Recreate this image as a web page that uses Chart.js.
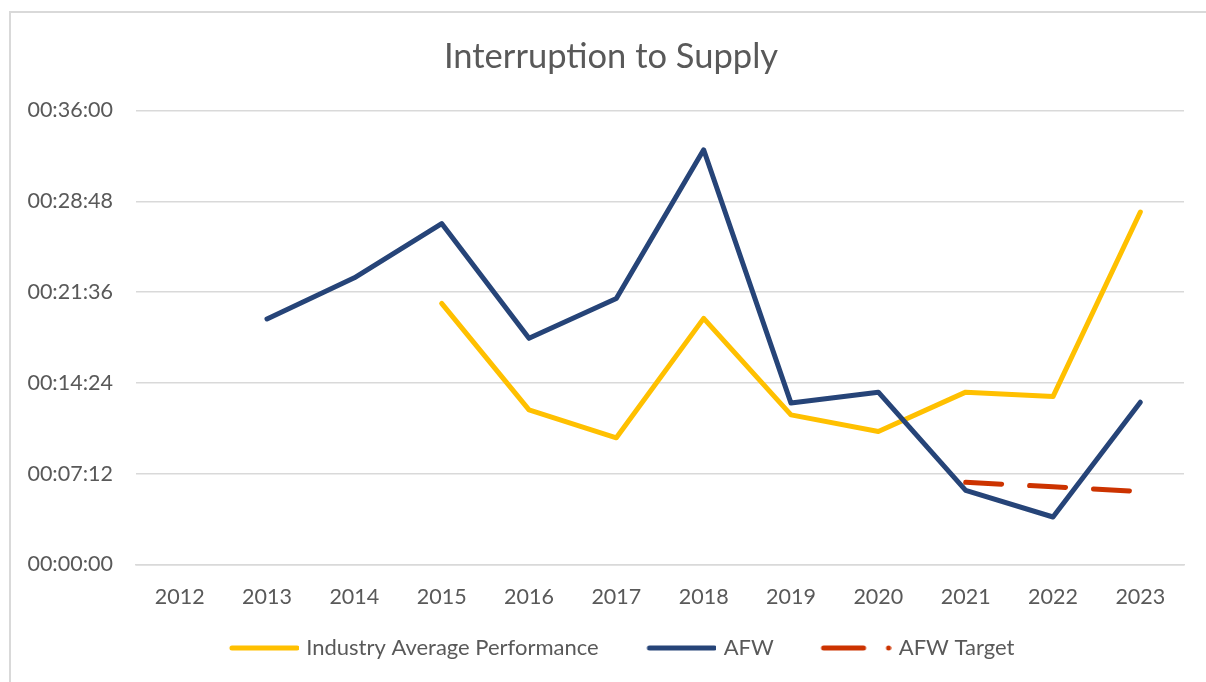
<!DOCTYPE html>
<html>
<head>
<meta charset="utf-8">
<title>Interruption to Supply</title>
<script src="https://cdn.jsdelivr.net/npm/chart.js@4"></script>
<style>
    html, body { margin: 0; padding: 0; background: #fff; overflow: hidden; }
    #frame {
        position: absolute; left: 9px; top: 11px; right: 0; bottom: 0;
        border-left: 2px solid #d9d9d9; border-top: 2px solid #d9d9d9;
    }
    #chart { position: absolute; left: 0; top: 0; }
</style>
</head>
<body>
<div id="frame"></div>
<canvas id="chart" width="1206" height="682"></canvas>
<script>
// values are hh:mm:ss, null where there is no figure
const years = ["2012", "2013", "2014", "2015", "2016", "2017", "2018", "2019", "2020", "2021", "2022", "2023"];
const industryAvg = [null, null, null, "00:20:42", "00:12:16", "00:10:03", "00:19:31", "00:11:52", "00:10:33", "00:13:40", "00:13:19", "00:27:57"];
const afw = [null, "00:19:28", "00:22:44", "00:27:02", "00:17:56", "00:21:06", "00:32:53", "00:12:48", "00:13:40", "00:05:53", "00:03:46", "00:12:52"];
const afwTarget = [null, null, null, null, null, null, null, null, null, "00:06:31", "00:06:10", "00:05:47"];

const yMax = "00:36:00";
const yStep = "00:07:12";

const toSeconds = (t) => {
    if (t === null) return null;
    const [h, m, s] = t.split(":").map(Number);
    return h * 3600 + m * 60 + s;
};

const pad = (n) => String(n).padStart(2, "0");
const toClock = (secs) => {
    const h = Math.floor(secs / 3600);
    const m = Math.floor((secs % 3600) / 60);
    const s = Math.round(secs % 60);
    return `${pad(h)}:${pad(m)}:${pad(s)}`;
};

const textColor = "#595959";
const gridColor = "#d9d9d9";
const fontFamily = "Lato, 'Open Sans', sans-serif";

// legend symbols: transparent lead-in widens the gap between items,
// and the image pokes 4px past its box so the sample sits closer to the text
const gapExtra = 17.5;
const boxW = 70 + gapExtra;
const makeSample = (color, dashed) => {
    const c = document.createElement("canvas");
    const w = boxW + 8;
    c.width = w;
    c.height = 10;
    const g = c.getContext("2d");
    g.strokeStyle = color;
    g.fillStyle = color;
    g.lineWidth = 5;
    g.lineCap = "round";
    g.beginPath();
    if (dashed) {
        g.moveTo(w - 68.5, 5);
        g.lineTo(w - 28.5, 5);
        g.stroke();
        g.beginPath();
        g.arc(w - 3.5, 5, 2.5, 0, Math.PI * 2);
        g.fill();
    } else {
        g.moveTo(w - 67.5, 5);
        g.lineTo(w - 2.5, 5);
        g.stroke();
    }
    return c;
};

const series = [
    { label: "Industry Average Performance", data: industryAvg, color: "#ffc000", dash: [], order: 3 },
    { label: "AFW", data: afw, color: "#264478", dash: [], order: 2 },
    { label: "AFW Target", data: afwTarget, color: "#cc3300", dash: [36, 28], order: 1 },
];

const ctx = document.getElementById("chart").getContext("2d");

new Chart(ctx, {
    type: "line",
    data: {
        labels: years,
        datasets: series.map((s) => ({
            label: s.label,
            data: s.data.map(toSeconds),
            borderColor: s.color,
            backgroundColor: s.color,
            borderWidth: 5,
            borderDash: s.dash,
            borderCapStyle: "round",
            borderJoinStyle: "round",
            pointRadius: 0,
            tension: 0,
            spanGaps: false,
            order: s.order,
        })),
    },
    options: {
        responsive: false,
        animation: false,
        layout: {
            padding: { left: 24, right: 8, top: 0, bottom: 13 },
        },
        plugins: {
            tooltip: { enabled: false },
            title: {
                display: true,
                text: "Interruption to Supply",
                color: textColor,
                font: { family: fontFamily, size: 34.5, weight: "normal" },
                padding: { top: 36.3, bottom: 32.8 },
            },
            legend: {
                position: "bottom",
                labels: {
                    usePointStyle: true,
                    pointStyleWidth: boxW,
                    padding: 26.5,
                    color: textColor,
                    font: { family: fontFamily, size: 22 },
                    generateLabels: () =>
                        series.map((s, i) => ({
                            text: s.label,
                            pointStyle: makeSample(s.color, s.dash.length > 0),
                            fillStyle: s.color,
                            strokeStyle: s.color,
                            lineWidth: 0,
                            fontColor: textColor,
                            datasetIndex: i,
                            hidden: false,
                        })),
                },
            },
        },
        scales: {
            x: {
                offset: true,
                grid: { display: false, drawTicks: false },
                border: { display: true, color: gridColor, width: 1.5 },
                ticks: {
                    color: textColor,
                    font: { family: fontFamily, size: 21.5 },
                    padding: 20,
                    autoSkip: false,
                    maxRotation: 0,
                },
                afterFit: (scale) => { scale.height = 46; },
            },
            y: {
                min: 0,
                max: toSeconds(yMax),
                grid: { color: gridColor, lineWidth: 1.5, drawTicks: false },
                border: { display: false },
                ticks: {
                    stepSize: toSeconds(yStep),
                    color: textColor,
                    font: { family: fontFamily, size: 21.5 },
                    padding: 23,
                    callback: (value) => toClock(value),
                },
                afterFit: (scale) => { scale.width = 112; },
            },
            y2: {
                position: "right",
                display: true,
                grid: { display: false, drawTicks: false },
                border: { display: false },
                ticks: { display: false },
                afterFit: (scale) => { scale.width = 14; },
            },
        },
    },
});
</script>
</body>
</html>
